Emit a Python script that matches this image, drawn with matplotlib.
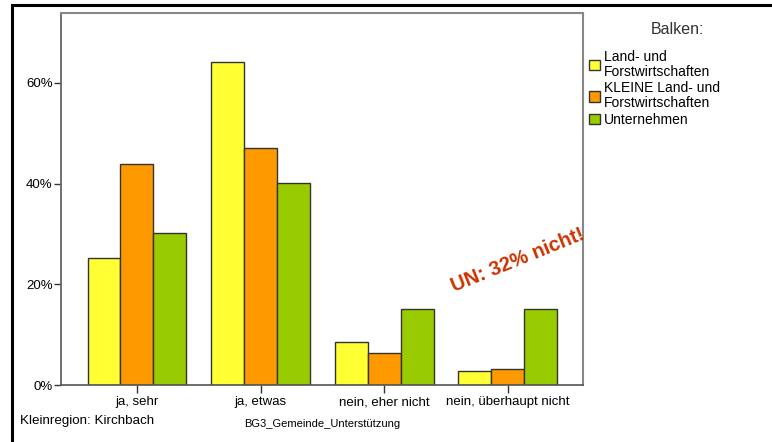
import numpy as np
import matplotlib
matplotlib.use("Agg")
import matplotlib.pyplot as plt
from matplotlib.patches import Rectangle
from matplotlib.ticker import FuncFormatter

plt.rcParams['font.family'] = ['Liberation Sans', 'DejaVu Sans']

categories = ["ja, sehr", "ja, etwas", "nein, eher nicht", "nein, überhaupt nicht"]
series_names = ["Land- und\nForstwirtschaften", "KLEINE Land- und\nForstwirtschaften", "Unternehmen"]
land_forst = [25.2, 64.2, 8.5, 2.8]
kleine_land_forst = [43.9, 47.1, 6.4, 3.2]
unternehmen = [30.2, 40.1, 15.1, 15.1]
colors = ["#FFFF33", "#FF9900", "#99CC00"]
y_ticks = [0, 20, 40, 60]

fig = plt.figure(figsize=(7.72, 4.42), dpi=100)
ax = fig.add_axes([61 / 772, 57 / 442, 522 / 772, 372 / 442])

x = np.arange(len(categories))
width = 0.267
handles = []
for i, (vals, name) in enumerate(zip([land_forst, kleine_land_forst, unternehmen], series_names)):
    b = ax.bar(x + (i - 1) * width, vals, width, color=colors[i], edgecolor="#333333",
               linewidth=1.0, label=name, zorder=2)
    handles.append(b)

ax.set_xlim(-0.615, 3.61)
ax.set_ylim(0, 73.9)
ax.set_xticks(x)
ax.set_xticklabels(categories, fontsize=9.5)
ax.set_yticks(y_ticks)
ax.yaxis.set_major_formatter(FuncFormatter(lambda v, p: f"{v:.0f}%"))
ax.tick_params(axis="y", labelsize=9.5, length=5, width=1, color="#333333", pad=1)
ax.tick_params(axis="x", length=6, width=1, color="#333333", pad=2)

for side in ["top", "right"]:
    ax.spines[side].set_color("#888888")
    ax.spines[side].set_linewidth(1.5)
ax.spines["left"].set_color("#666666")
ax.spines["bottom"].set_color("#555555")
ax.spines["left"].set_linewidth(1.3)
ax.spines["bottom"].set_linewidth(1.2)

# annotation on the chart
ax.text(3.08, 24.8, "UN: 32% nicht!", color="#CC3300", fontsize=14.5, fontweight="bold",
        rotation=22, ha="center", va="center", zorder=5, clip_on=False)

leg = fig.legend(handles=handles, labels=series_names, loc="upper left",
                 bbox_to_anchor=(589 / 772, 1 - 50 / 442), frameon=False, fontsize=10,
                 handlelength=0.8, handleheight=0.8, handletextpad=0.25,
                 labelspacing=0.2, borderaxespad=0, borderpad=0)
for t in leg.get_texts():
    t.set_linespacing(1.05)
fig.text(677 / 772, 1 - 30 / 442, "Balken:", fontsize=11.5, ha="center", va="center", color="#333333")

fig.text(20 / 772, 1 - 421 / 442, "Kleinregion: Kirchbach", fontsize=9.6, ha="left", va="center")
fig.text(322 / 772, 1 - 424 / 442, "BG3_Gemeinde_Unterstützung", fontsize=8, ha="center", va="center")

# outer frame
fig.patches.append(Rectangle((12 / 772, -0.05), 1.0, 1 - 5 / 442 + 0.05, transform=fig.transFigure,
                             fill=False, edgecolor="black", linewidth=2.2, clip_on=False))

fig.savefig("out.png", dpi=100)
